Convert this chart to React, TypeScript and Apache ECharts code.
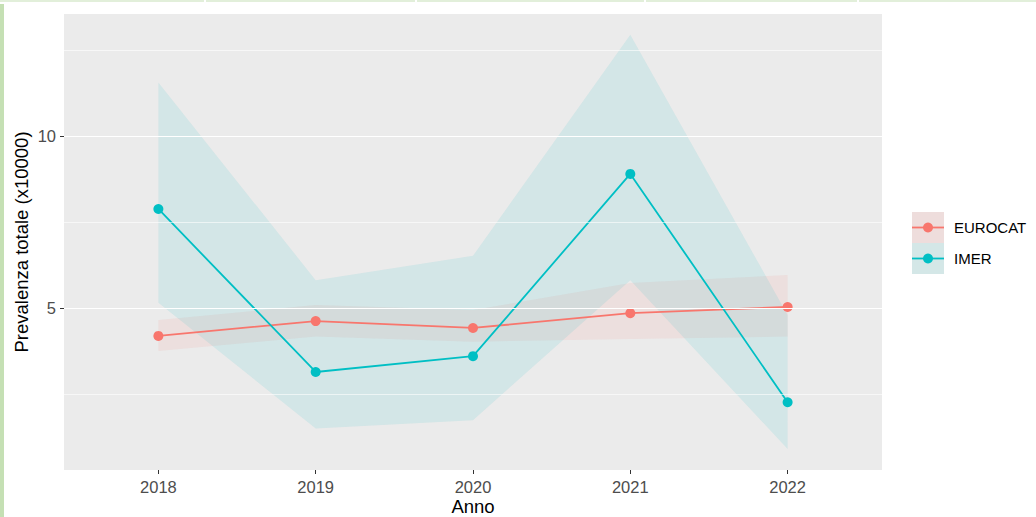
import React, { useEffect, useRef } from "react";
import * as echarts from "echarts";

const years = [2018, 2019, 2020, 2021, 2022];
const eurocat = [4.19, 4.62, 4.42, 4.85, 5.03];
const eurocatLo = [3.75, 4.17, 4.02, 4.1, 4.17];
const eurocatHi = [4.65, 5.09, 4.94, 5.73, 5.96];
const imer = [7.88, 3.14, 3.6, 8.9, 2.26];
const imerLo = [5.15, 1.5, 1.74, 5.81, 0.9];
const imerHi = [11.56, 5.81, 6.52, 12.95, 4.8];
const yTicks = [5, 10];
const yMinor = [2.5, 7.5, 12.5];
const seriesNames = ["EUROCAT", "IMER"];

const RED = "#F8766D";
const CYAN = "#00BFC4";
const FONT = "'Liberation Sans', Arial, sans-serif";

function ribbon(name: string, lo: number[], hi: number[], fill: string) {
  return {
    type: "custom",
    name: name + "_ci",
    silent: true,
    z: 1,
    data: years.map((y, i) => [y, lo[i], hi[i]]),
    encode: { x: 0, y: [1, 2] },
    renderItem: (params: any, api: any) => {
      if (params.dataIndex !== 0) return { type: "group", children: [] };
      const top = years.map((y, i) => api.coord([y, hi[i]]));
      const bot = years.map((y, i) => api.coord([y, lo[i]])).reverse();
      return {
        type: "polygon",
        shape: { points: [...top, ...bot] },
        style: { fill },
      };
    },
  };
}

function line(name: string, vals: number[], color: string) {
  return {
    type: "line",
    name,
    z: 3,
    data: years.map((y, i) => [y, vals[i]]),
    symbol: "circle",
    symbolSize: 10,
    showSymbol: true,
    lineStyle: { color, width: 1.8 },
    itemStyle: { color },
  };
}

export default function App() {
  const ref = useRef<HTMLDivElement>(null);
  useEffect(() => {
    if (!ref.current) return;
    const chart = echarts.init(ref.current, null, { renderer: "svg" });
    const legendItems = seriesNames.map((n, i) => {
      const y0 = 212 + i * 31;
      const c = i === 0 ? RED : CYAN;
      const bg = i === 0 ? "#EEDDDC" : "#D4E7E7";
      return {
        type: "group",
        children: [
          { type: "rect", shape: { x: 912, y: y0, width: 32, height: 31 }, style: { fill: bg } },
          { type: "line", shape: { x1: 912, y1: y0 + 15.5, x2: 944, y2: y0 + 15.5 }, style: { stroke: c, lineWidth: 1.8 } },
          { type: "circle", shape: { cx: 928, cy: y0 + 15.5, r: 5 }, style: { fill: c } },
          {
            type: "text",
            x: 954,
            y: y0 + 15.5,
            style: { text: n, font: `15px ${FONT}`, fill: "#000", textVerticalAlign: "middle" },
          },
        ],
      };
    });
    const topSegs = [
      [0, 204],
      [206, 415],
      [417, 644],
      [646, 857],
      [859, 1036],
    ];
    chart.setOption({
      animation: false,
      backgroundColor: "#fff",
      textStyle: { fontFamily: FONT },
      grid: {
        left: 64,
        right: 154,
        top: 14,
        bottom: 47,
        show: true,
        backgroundColor: "#EBEBEB",
        borderWidth: 0,
        containLabel: false,
        outerBoundsMode: "none",
      },
      xAxis: {
        type: "value",
        min: 2017.4,
        max: 2022.6,
        name: "Anno",
        nameLocation: "middle",
        nameGap: 27,
        nameMoveOverlap: false,
        nameTextStyle: { fontSize: 18.5, color: "#000", fontFamily: FONT },
        axisLine: { show: false },
        axisTick: { show: true, length: 4, lineStyle: { color: "#333", width: 1 }, customValues: years },
        axisLabel: {
          customValues: years,
          color: "#4D4D4D",
          fontSize: 16.5,
          margin: 8,
          fontFamily: FONT,
          formatter: (v: number) => String(v),
        },
        splitLine: { show: false },
      },
      yAxis: {
        type: "value",
        min: 0.29,
        max: 13.55,
        name: "Prevalenza totale (x10000)",
        nameLocation: "middle",
        nameGap: 33,
        nameMoveOverlap: false,
        nameTextStyle: { fontSize: 18.5, color: "#000", fontFamily: FONT },
        axisLine: { show: false },
        axisTick: { show: true, length: 4, lineStyle: { color: "#333", width: 1 }, customValues: yTicks },
        axisLabel: { customValues: yTicks, color: "#4D4D4D", fontSize: 16.5, margin: 8, fontFamily: FONT },
        splitLine: { show: false },
      },
      series: [
        {
          type: "line",
          name: "grid",
          data: [],
          z: 0,
          silent: true,
          markLine: {
            silent: true,
            symbol: "none",
            label: { show: false },
            animation: false,
            data: [
              ...yMinor.map((v) => ({ yAxis: v, lineStyle: { color: "#fff", width: 0.6, type: "solid" } })),
              ...yTicks.map((v) => ({ yAxis: v, lineStyle: { color: "#fff", width: 1.1, type: "solid" } })),
            ],
          },
        },
        ribbon("EUROCAT", eurocatLo, eurocatHi, "rgba(248,118,109,0.1)"),
        ribbon("IMER", imerLo, imerHi, "rgba(0,191,196,0.1)"),
        line("EUROCAT", eurocat, RED),
        line("IMER", imer, CYAN),
      ],
      graphic: [
        { type: "rect", shape: { x: 0, y: 4, width: 4, height: 513 }, style: { fill: "#C5E0B4" } },
        ...topSegs.map(([a, b]) => ({
          type: "rect",
          shape: { x: a, y: 0, width: b - a, height: 2 },
          style: { fill: "#E2EFDA" },
        })),
        ...legendItems,
      ],
    });
    return () => chart.dispose();
  }, []);
  return (
    <div
      ref={ref}
      style={{ position: "fixed", left: 0, top: 0, width: 1036, height: 517 }}
    />
  );
}
